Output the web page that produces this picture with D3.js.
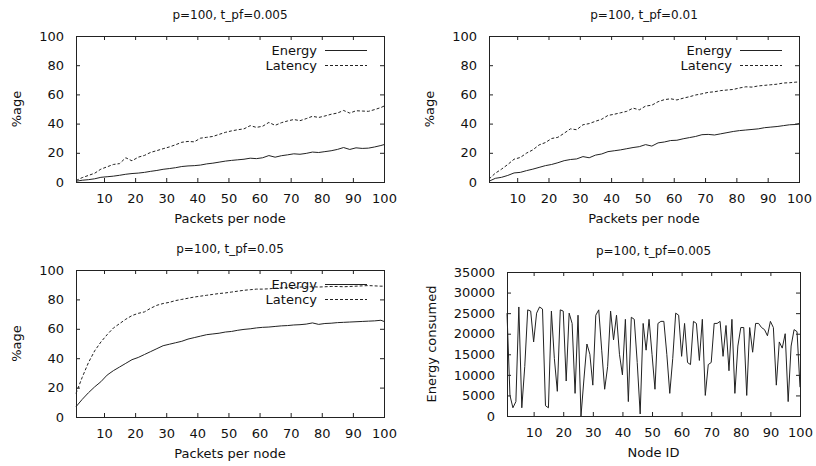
<!DOCTYPE html>
<html>
<head>
<meta charset="utf-8">
<script src="https://cdn.jsdelivr.net/npm/d3@7"></script>
<style>
  body { margin: 0; background: #fff; }
  text { font-family: "DejaVu Sans", sans-serif; fill: #111; }
</style>
</head>
<body>
<div id="chart"></div>
<script>
// x values for the three percentage panels
const packets = [1, 3, 5, 7, 9, 11, 13, 15, 17, 19, 21, 23, 25, 27, 29, 31, 33, 35, 37, 39,
  41, 43, 45, 47, 49, 51, 53, 55, 57, 59, 61, 63, 65, 67, 69, 71, 73, 75, 77, 79,
  81, 83, 85, 87, 89, 91, 93, 95, 97, 99, 100];

// p=100, t_pf=0.005
const energy005 = [0.5, 1.2, 1.6, 2.2, 3.2, 3.6, 4.0, 4.6, 5.3, 5.8, 6.1, 6.6, 7.3, 7.9, 8.7, 9.2, 9.8, 10.6, 11.0, 11.2,
  11.6, 12.4, 12.9, 13.6, 14.3, 14.8, 15.2, 15.6, 16.3, 16.0, 16.6, 18.1, 17.0, 18.0, 18.6, 19.3, 19.0, 19.6, 20.5, 20.2,
  20.8, 21.4, 22.3, 23.6, 22.3, 23.4, 23.0, 23.2, 24.0, 25.0, 25.6];
const latency005 = [1.0, 3.0, 4.5, 6.0, 8.8, 10.4, 12.0, 12.6, 16.6, 14.5, 17.0, 18.2, 20.3, 21.5, 22.8, 24.0, 25.5, 27.2, 27.8, 27.5,
  30.0, 30.6, 31.2, 32.6, 34.0, 35.0, 35.8, 36.4, 38.6, 37.4, 38.2, 40.8, 38.8, 40.6, 41.8, 42.8, 42.0, 43.4, 45.0, 44.2,
  45.2, 46.4, 47.2, 49.0, 47.2, 48.8, 48.6, 48.4, 49.6, 51.0, 52.0];

// p=100, t_pf=0.01
const energy001 = [0.5, 2.5, 3.2, 4.5, 6.2, 6.6, 7.8, 8.8, 10.0, 11.2, 12.0, 13.2, 14.6, 15.4, 15.8, 17.4, 16.6, 18.4, 19.2, 20.8,
  21.4, 22.0, 22.8, 23.6, 24.2, 25.6, 24.6, 26.8, 27.4, 28.4, 28.6, 29.6, 30.4, 31.2, 32.4, 32.6, 32.2, 33.0, 33.8, 34.6,
  35.2, 35.6, 36.0, 36.4, 37.2, 37.6, 38.0, 38.6, 39.2, 39.4, 40.0];
const latency001 = [2.0, 6.0, 8.8, 12.0, 15.6, 16.8, 19.8, 22.0, 25.4, 27.0, 29.8, 30.6, 33.4, 36.4, 35.8, 39.2, 40.0, 41.6, 43.0, 45.6,
  46.4, 47.4, 48.4, 50.6, 49.4, 52.0, 52.6, 55.0, 56.4, 57.0, 56.2, 57.4, 58.4, 59.6, 60.4, 61.4, 61.8, 62.6, 63.0, 63.4,
  64.4, 65.2, 65.0, 65.8, 66.2, 66.6, 67.0, 67.8, 68.0, 68.4, 68.5];

// p=100, t_pf=0.05
const energy05 = [7.0, 12.0, 16.5, 20.5, 24.0, 28.5, 31.5, 34.0, 36.5, 39.0, 40.5, 42.5, 44.5, 46.5, 48.5, 49.5, 50.5, 51.5, 53.0, 54.0,
  55.0, 56.0, 56.5, 57.0, 57.8, 58.2, 59.0, 59.6, 60.0, 60.6, 61.0, 61.2, 61.6, 62.0, 62.2, 62.6, 62.8, 63.2, 64.0, 63.0,
  63.6, 63.8, 64.2, 64.4, 64.6, 64.8, 65.0, 65.2, 65.4, 65.8, 65.0];
const latency05 = [16.0, 27.0, 37.0, 45.0, 51.0, 56.0, 60.5, 63.5, 66.5, 69.0, 70.5, 71.5, 74.0, 76.0, 77.2, 78.0, 79.2, 80.0, 80.8, 81.6,
  82.2, 82.8, 83.4, 84.0, 84.4, 85.0, 85.6, 86.2, 86.6, 87.0, 87.0, 87.2, 87.6, 87.8, 88.0, 88.2, 88.4, 88.6, 88.6, 88.4,
  88.6, 88.8, 88.8, 88.6, 88.8, 89.0, 89.2, 89.4, 89.2, 89.0, 89.0];

// energy consumed per node, p=100, t_pf=0.005
const nodeIds = d3.range(1, 101);
const nodeEnergy = [25000, 5000, 2000, 3500, 26500, 2000, 12000, 25800, 25500, 18000,
  25000, 26500, 26000, 2500, 2000, 25500, 14000, 6000, 25800, 25500,
  8500, 25000, 22500, 5500, 24500, 0, 9000, 17500, 15000, 7500,
  24500, 25800, 16000, 6500, 12000, 25500, 18500, 24500, 15000, 10000,
  23500, 3500, 24000, 23500, 13000, 500, 22500, 16000, 23500, 15000,
  6500, 22500, 23000, 23000, 15000, 5500, 14000, 25000, 24500, 14500,
  22500, 13000, 12500, 23000, 22500, 13500, 23500, 5000, 12500, 13000,
  22500, 22500, 23000, 14500, 22000, 11000, 23500, 5500, 17000, 21500,
  21500, 5000, 21500, 15500, 22500, 22500, 21500, 21000, 19500, 23000,
  21500, 7500, 18000, 16500, 20000, 3500, 17000, 21000, 20500, 7000];

const percentTicks = [0, 20, 40, 60, 80, 100];
const xTicks = [10, 20, 30, 40, 50, 60, 70, 80, 90, 100];
const energyTicks = [0, 5000, 10000, 15000, 20000, 25000, 30000, 35000];

const svg = d3.select("#chart").append("svg")
  .attr("width", 816)
  .attr("height", 466);

const drawPanel = (p) => {
  const x = d3.scaleLinear().domain([1, 100]).range([p.left, p.right]);
  const y = d3.scaleLinear().domain(p.yDomain).range([p.bottom, p.top]);
  const g = svg.append("g");

  // ticks on all four sides, pointing inward
  const tickLen = 4;
  const bottom = g.append("g")
    .attr("transform", `translate(0,${p.bottom})`)
    .call(d3.axisBottom(x).tickValues(xTicks).tickSize(-tickLen).tickPadding(12).tickFormat(d3.format("d")));
  g.append("g")
    .attr("transform", `translate(0,${p.top})`)
    .call(d3.axisTop(x).tickValues(xTicks).tickSize(-tickLen).tickFormat(""));
  const left = g.append("g")
    .attr("transform", `translate(${p.left},0)`)
    .call(d3.axisLeft(y).tickValues(p.yTicks).tickSize(-tickLen).tickPadding(12).tickFormat(d3.format("d")));
  g.append("g")
    .attr("transform", `translate(${p.right},0)`)
    .call(d3.axisRight(y).tickValues(p.yTicks).tickSize(-tickLen).tickFormat(""));

  g.selectAll(".domain").remove();
  g.selectAll(".tick line").attr("stroke", "#222");
  g.selectAll(".tick text").attr("font-size", 13).attr("fill", "#111")
    .attr("font-family", "DejaVu Sans, sans-serif");

  g.append("rect")
    .attr("x", p.left + 0.5).attr("y", p.top + 0.5)
    .attr("width", p.right - p.left).attr("height", p.bottom - p.top)
    .attr("fill", "none").attr("stroke", "#222");

  // title
  g.append("text")
    .attr("x", (p.left + p.right) / 2)
    .attr("y", p.top - 17)
    .attr("text-anchor", "middle")
    .attr("font-size", 12)
    .text(p.title);

  // axis labels
  g.append("text")
    .attr("x", (p.left + p.right) / 2)
    .attr("y", p.bottom + 41)
    .attr("text-anchor", "middle")
    .attr("font-size", 13)
    .text(p.xLabel);
  g.append("text")
    .attr("transform", `translate(${p.yLabelX},${(p.top + p.bottom) / 2}) rotate(-90)`)
    .attr("text-anchor", "middle")
    .attr("dy", "0.35em")
    .attr("font-size", 13)
    .text(p.yLabel);

  const line = d3.line()
    .x(d => x(d[0]))
    .y(d => y(d[1]));

  p.series.forEach((s, i) => {
    g.append("path")
      .datum(d3.zip(s.xs, s.values))
      .attr("fill", "none")
      .attr("stroke", "#222")
      .attr("stroke-width", 1)
      .attr("stroke-dasharray", s.dash)
      .attr("d", line);

    if (s.name) {
      const ly = p.top + 14 + i * 15;
      g.append("text")
        .attr("x", p.right - 67)
        .attr("y", ly)
        .attr("dy", "0.35em")
        .attr("text-anchor", "end")
        .attr("font-size", 13)
        .text(s.name);
      g.append("line")
        .attr("x1", p.right - 59).attr("x2", p.right - 17)
        .attr("y1", ly + 0.5).attr("y2", ly + 0.5)
        .attr("stroke", "#222")
        .attr("stroke-dasharray", s.dash);
    }
  });
};

const pctPanel = (left, right, top, bottom, title, energy, latency) => ({
  left, right, top, bottom, title,
  yDomain: [0, 100], yTicks: percentTicks,
  xLabel: "Packets per node", yLabel: "%age", yLabelX: left - 60,
  series: [
    {name: "Energy", xs: packets, values: energy, dash: null},
    {name: "Latency", xs: packets, values: latency, dash: "3,2"}
  ]
});

drawPanel(pctPanel(76, 384, 36, 182, "p=100, t_pf=0.005", energy005, latency005));
drawPanel(pctPanel(489, 799, 36, 182, "p=100, t_pf=0.01", energy001, latency001));
drawPanel(pctPanel(76, 384, 270, 417, "p=100, t_pf=0.05", energy05, latency05));
drawPanel({
  left: 507, right: 800, top: 272, bottom: 416,
  title: "p=100, t_pf=0.005",
  yDomain: [0, 35000], yTicks: energyTicks,
  xLabel: "Node ID", yLabel: "Energy consumed", yLabelX: 431,
  series: [{name: null, xs: nodeIds, values: nodeEnergy, dash: null}]
});
</script>
</body>
</html>
